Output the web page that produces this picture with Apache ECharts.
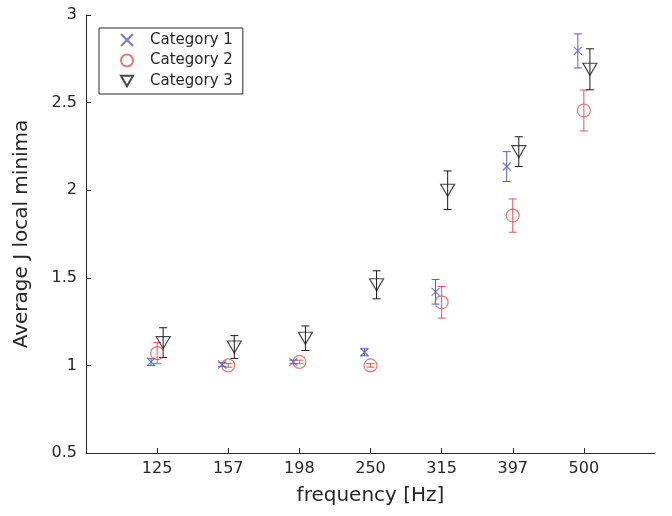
<!DOCTYPE html>
<html>
<head>
<meta charset="utf-8">
<script src="https://cdn.jsdelivr.net/npm/echarts@6/dist/echarts.min.js"></script>
<style>
  html, body { margin: 0; padding: 0; background: #fff; }
  #chart { width: 672px; height: 516px; }
</style>
</head>
<body>
<div id="chart"></div>
<script>
// Frequency bands (x categories)
const frequencies = ['125', '157', '198', '250', '315', '397', '500'];

// Y-axis tick labels
const yTicks = [0.5, 1, 1.5, 2, 2.5, 3];

// Mean values and half-width of the error bars for each category
const cat1Mean = [1.02, 1.005, 1.02, 1.075, 1.42, 2.135, 2.795];
const cat1Err  = [0.02, 0.01, 0.01, 0.02, 0.07, 0.085, 0.097];

const cat2Mean = [1.07, 1.0, 1.02, 1.0, 1.36, 1.855, 2.455];
const cat2Err  = [0.06, 0.01, 0.01, 0.01, 0.09, 0.095, 0.117];

const cat3Mean = [1.13, 1.105, 1.155, 1.46, 2.0, 2.22, 2.69];
const cat3Err  = [0.085, 0.065, 0.07, 0.08, 0.11, 0.085, 0.117];

const seriesNames = ['Category 1', 'Category 2', 'Category 3'];

const COL1 = '#5a5ac4';
const COL2 = '#e05555';
const COL3 = '#1a1a1a';
const AXIS = '#262626';
const FONT = 'DejaVu Sans';

// horizontal shift of each category around the frequency position
const shift = [-0.085, 0, 0.085];

function points(means, k) {
  return means.map((v, i) => [i + 1 + shift[k], v]);
}
function bars(means, errs, k) {
  return means.map((v, i) => [i + 1 + shift[k], v - errs[i], v + errs[i]]);
}

function errorSeries(data, color) {
  return {
    type: 'custom',
    silent: true,
    z: 2,
    data: data,
    renderItem: function (params, api) {
      const x = api.value(0);
      const lo = api.coord([x, api.value(1)]);
      const hi = api.coord([x, api.value(2)]);
      const cap = 4;
      const style = { stroke: color, lineWidth: 1, fill: null };
      return {
        type: 'group',
        children: [
          { type: 'line', shape: { x1: lo[0], y1: lo[1], x2: hi[0], y2: hi[1] }, style: style },
          { type: 'line', shape: { x1: lo[0] - cap, y1: lo[1], x2: lo[0] + cap, y2: lo[1] }, style: style },
          { type: 'line', shape: { x1: hi[0] - cap, y1: hi[1], x2: hi[0] + cap, y2: hi[1] }, style: style }
        ]
      };
    }
  };
}

const crossPath = 'path://M0,0L10,10M10,0L0,10';
const downTriangle = 'path://M0,0L10,0L5,8.66Z';

const chart = echarts.init(document.getElementById('chart'), null, { renderer: 'canvas' });

chart.setOption({
  animation: false,
  backgroundColor: '#ffffff',
  textStyle: { fontFamily: FONT },
  grid: { left: 86, right: 17, top: 15, bottom: 63 },
  legend: {
    data: seriesNames,
    orient: 'vertical',
    left: 99,
    top: 28,
    padding: [4, 10, 5, 21],
    itemGap: 4.5,
    itemWidth: 12,
    itemHeight: 12,
    borderColor: AXIS,
    borderWidth: 1,
    borderRadius: 0,
    backgroundColor: '#fff',
    textStyle: { fontFamily: FONT, fontSize: 15, lineHeight: 16, color: '#262626', padding: [0, 0, 0, 12] }
  },
  xAxis: {
    type: 'value',
    min: 0,
    max: 8,
    interval: 1,
    name: 'frequency [Hz]',
    nameLocation: 'middle',
    nameGap: 33,
    nameTextStyle: { fontFamily: FONT, fontSize: 20, color: AXIS },
    splitLine: { show: false },
    axisLine: { show: true, lineStyle: { color: AXIS, width: 1 } },
    axisTick: {
      show: true, inside: true, length: 5,
      lineStyle: { color: AXIS },
      customValues: [1, 2, 3, 4, 5, 6, 7]
    },
    axisLabel: {
      fontFamily: FONT, fontSize: 16, color: AXIS, margin: 8,
      customValues: [1, 2, 3, 4, 5, 6, 7],
      formatter: function (v) {
        const i = Math.round(v) - 1;
        return (i >= 0 && i < frequencies.length) ? frequencies[i] : '';
      }
    }
  },
  yAxis: {
    type: 'value',
    min: yTicks[0],
    max: yTicks[yTicks.length - 1],
    interval: 0.5,
    name: 'Average J local minima',
    nameLocation: 'middle',
    nameGap: 54,
    nameTextStyle: { fontFamily: FONT, fontSize: 20, color: AXIS },
    splitLine: { show: false },
    axisLine: { show: true, lineStyle: { color: AXIS, width: 1 } },
    axisTick: { show: true, inside: true, length: 5, lineStyle: { color: AXIS } },
    axisLabel: {
      fontFamily: FONT, fontSize: 16, color: AXIS, margin: 9,
      formatter: function (v) { return String(v); }
    }
  },
  series: [
    errorSeries(bars(cat1Mean, cat1Err, 0), COL1),
    errorSeries(bars(cat2Mean, cat2Err, 1), COL2),
    errorSeries(bars(cat3Mean, cat3Err, 2), COL3),
    {
      name: seriesNames[0],
      type: 'scatter',
      z: 3,
      symbol: crossPath,
      symbolSize: 8,
      itemStyle: { color: 'rgba(0,0,0,0)', borderColor: COL1, borderWidth: 1.2 },
      data: points(cat1Mean, 0)
    },
    {
      name: seriesNames[1],
      type: 'scatter',
      z: 3,
      symbol: 'circle',
      symbolSize: 13,
      itemStyle: { color: 'rgba(0,0,0,0)', borderColor: COL2, borderWidth: 1.2 },
      data: points(cat2Mean, 1)
    },
    {
      name: seriesNames[2],
      type: 'scatter',
      z: 3,
      symbol: downTriangle,
      symbolSize: [14, 12],
      itemStyle: { color: 'rgba(0,0,0,0)', borderColor: COL3, borderWidth: 1.2 },
      data: points(cat3Mean, 2)
    }
  ]
});
</script>
</body>
</html>
